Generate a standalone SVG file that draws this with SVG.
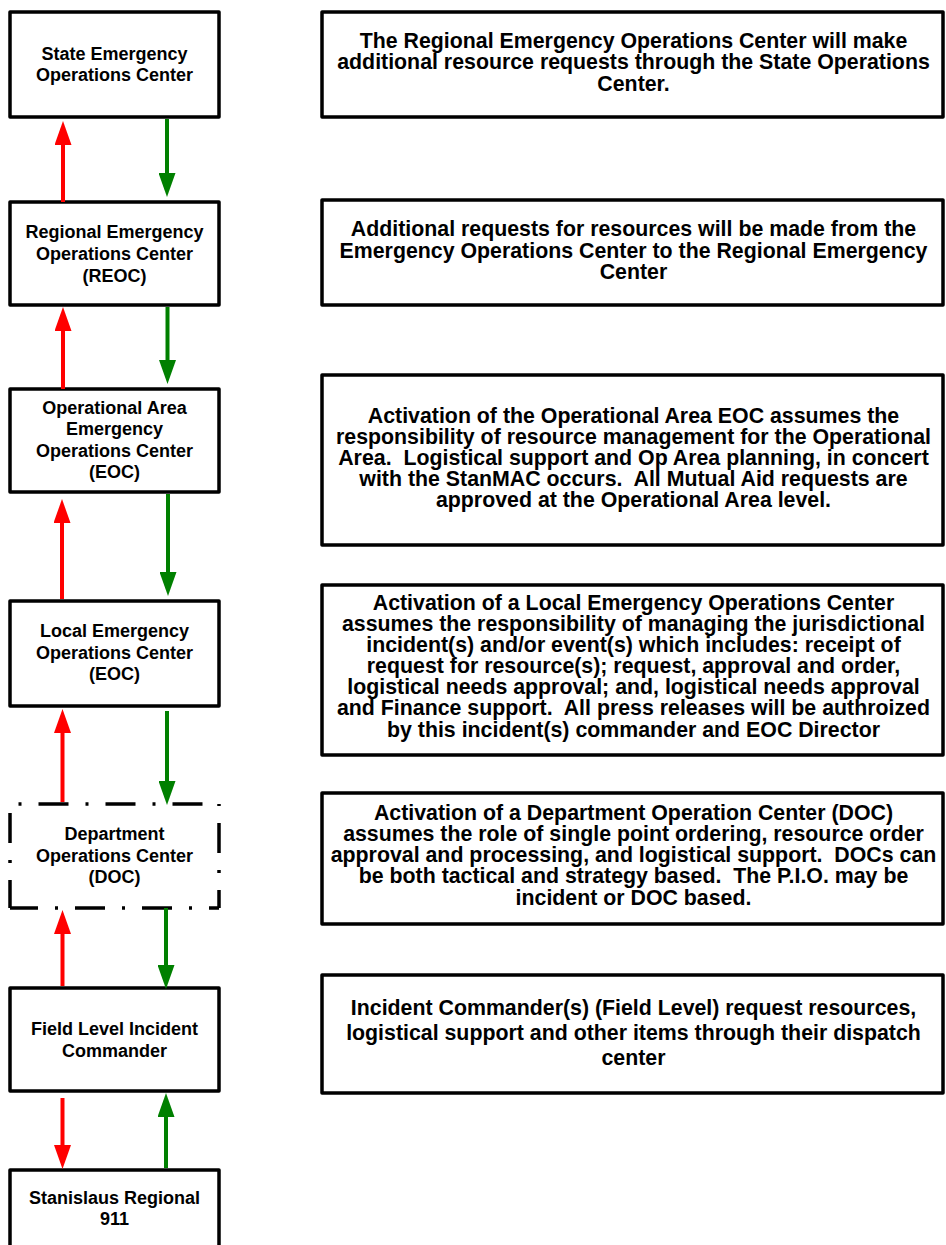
<svg xmlns="http://www.w3.org/2000/svg" width="946" height="1245" viewBox="0 0 946 1245">
<style>
  .box { fill: #ffffff; stroke: #000000; stroke-width: 3.5; stroke-linejoin: round; }
  .dd { stroke: #000000; stroke-width: 3.5; fill: none; stroke-dasharray: 30 17 3 17; }
  .lt { font-family: "Liberation Sans", Arial, sans-serif; font-weight: bold; font-size: 18px; text-anchor: middle; fill: #000000; }
  .rt { font-family: "Liberation Sans", Arial, sans-serif; font-weight: bold; font-size: 21.33px; text-anchor: middle; fill: #000000; white-space: pre; }
  .red { stroke: #ff0000; stroke-width: 4; fill: none; }
  .green { stroke: #008000; stroke-width: 4; fill: none; }
</style>
<defs>
  <marker id="headRed" markerUnits="userSpaceOnUse" markerWidth="24" markerHeight="17" refX="0" refY="8.5" orient="auto" viewBox="0 0 24 17">
    <path d="M0,0 L24,8.5 L0,17 Z" fill="#ff0000"/>
  </marker>
  <marker id="headGreen" markerUnits="userSpaceOnUse" markerWidth="24" markerHeight="17" refX="0" refY="8.5" orient="auto" viewBox="0 0 24 17">
    <path d="M0,0 L24,8.5 L0,17 Z" fill="#008000"/>
  </marker>
</defs>
<rect width="946" height="1245" fill="#ffffff"/>

<!-- Left column nodes -->
<g id="state-eoc">
  <rect class="box" x="10" y="12" width="209" height="105"/>
  <text class="lt" x="114.5" y="60">State Emergency</text>
  <text class="lt" x="114.5" y="81">Operations Center</text>
</g>
<g id="reoc">
  <rect class="box" x="10" y="202" width="209" height="103"/>
  <text class="lt" x="114.5" y="238">Regional Emergency</text>
  <text class="lt" x="114.5" y="260">Operations Center</text>
  <text class="lt" x="114.5" y="282">(REOC)</text>
</g>
<g id="op-area-eoc">
  <rect class="box" x="10" y="389" width="209" height="103"/>
  <text class="lt" x="114.5" y="414">Operational Area</text>
  <text class="lt" x="114.5" y="435">Emergency</text>
  <text class="lt" x="114.5" y="457">Operations Center</text>
  <text class="lt" x="114.5" y="478">(EOC)</text>
</g>
<g id="local-eoc">
  <rect class="box" x="10" y="601" width="209" height="105"/>
  <text class="lt" x="114.5" y="637">Local Emergency</text>
  <text class="lt" x="114.5" y="659">Operations Center</text>
  <text class="lt" x="114.5" y="680">(EOC)</text>
</g>
<g id="doc">
  <line class="dd" x1="10" y1="804" x2="219" y2="804" stroke-dashoffset="38.5"/>
  <line class="dd" x1="219" y1="804" x2="219" y2="908" stroke-dashoffset="48"/>
  <line class="dd" x1="219" y1="908" x2="10" y2="908" stroke-dashoffset="20"/>
  <line class="dd" x1="10" y1="908" x2="10" y2="804" stroke-dashoffset="2"/>
  <text class="lt" x="114.5" y="840">Department</text>
  <text class="lt" x="114.5" y="862">Operations Center</text>
  <text class="lt" x="114.5" y="883">(DOC)</text>
</g>
<g id="field-ic">
  <rect class="box" x="10" y="988" width="209" height="103"/>
  <text class="lt" x="114.5" y="1035">Field Level Incident</text>
  <text class="lt" x="114.5" y="1057">Commander</text>
</g>
<g id="stanislaus-911">
  <rect class="box" x="10" y="1170" width="209" height="100"/>
  <text class="lt" x="114.5" y="1204">Stanislaus Regional</text>
  <text class="lt" x="114.5" y="1225">911</text>
</g>

<!-- Right column description nodes -->
<g id="desc-state">
  <rect class="box" x="322" y="12" width="621" height="105"/>
  <text class="rt" x="633.5" y="48">The Regional Emergency Operations Center will make</text>
  <text class="rt" x="633.5" y="69">additional resource requests through the State Operations</text>
  <text class="rt" x="633.5" y="91">Center.</text>
</g>
<g id="desc-reoc">
  <rect class="box" x="322" y="200" width="621" height="105"/>
  <text class="rt" x="633.5" y="236">Additional requests for resources will be made from the</text>
  <text class="rt" x="633.5" y="258">Emergency Operations Center to the Regional Emergency</text>
  <text class="rt" x="633.5" y="279">Center</text>
</g>
<g id="desc-op-area">
  <rect class="box" x="322" y="375" width="621" height="170"/>
  <text class="rt" x="633.5" y="423">Activation of the Operational Area EOC assumes the</text>
  <text class="rt" x="633.5" y="444">responsibility of resource management for the Operational</text>
  <text class="rt" x="633.5" y="465">Area.  Logistical support and Op Area planning, in concert</text>
  <text class="rt" x="633.5" y="486">with the StanMAC occurs.  All Mutual Aid requests are</text>
  <text class="rt" x="633.5" y="507">approved at the Operational Area level.</text>
</g>
<g id="desc-local">
  <rect class="box" x="322" y="585" width="621" height="170"/>
  <text class="rt" x="633.5" y="610">Activation of a Local Emergency Operations Center</text>
  <text class="rt" x="633.5" y="631">assumes the responsibility of managing the jurisdictional</text>
  <text class="rt" x="633.5" y="652">incident(s) and/or event(s) which includes: receipt of</text>
  <text class="rt" x="633.5" y="673">request for resource(s); request, approval and order,</text>
  <text class="rt" x="633.5" y="694">logistical needs approval; and, logistical needs approval</text>
  <text class="rt" x="633.5" y="715">and Finance support.  All press releases will be authroized</text>
  <text class="rt" x="633.5" y="737">by this incident(s) commander and EOC Director</text>
</g>
<g id="desc-doc">
  <rect class="box" x="322" y="793" width="621" height="131"/>
  <text class="rt" x="633.5" y="820">Activation of a Department Operation Center (DOC)</text>
  <text class="rt" x="633.5" y="841">assumes the role of single point ordering, resource order</text>
  <text class="rt" x="633.5" y="862">approval and processing, and logistical support.  DOCs can</text>
  <text class="rt" x="633.5" y="883">be both tactical and strategy based.  The P.I.O. may be</text>
  <text class="rt" x="633.5" y="905">incident or DOC based.</text>
</g>
<g id="desc-field">
  <rect class="box" x="322" y="975" width="621" height="118"/>
  <text class="rt" x="633.5" y="1015">Incident Commander(s) (Field Level) request resources,</text>
  <text class="rt" x="633.5" y="1040">logistical support and other items through their dispatch</text>
  <text class="rt" x="633.5" y="1065">center</text>
</g>

<!-- Connectors -->
<g id="connectors">
  <line class="red" x1="63" y1="202" x2="63" y2="145" marker-end="url(#headRed)"/>
  <line class="green" x1="167" y1="119" x2="167" y2="173" marker-end="url(#headGreen)"/>
  <line class="red" x1="63" y1="389" x2="63" y2="331" marker-end="url(#headRed)"/>
  <line class="green" x1="167.5" y1="307" x2="167.5" y2="360" marker-end="url(#headGreen)"/>
  <line class="red" x1="62" y1="599" x2="62" y2="523" marker-end="url(#headRed)"/>
  <line class="green" x1="168" y1="494" x2="168" y2="572" marker-end="url(#headGreen)"/>
  <line class="red" x1="62.5" y1="802" x2="62.5" y2="733" marker-end="url(#headRed)"/>
  <line class="green" x1="167" y1="711" x2="167" y2="781" marker-end="url(#headGreen)"/>
  <line class="red" x1="62.5" y1="986" x2="62.5" y2="934" marker-end="url(#headRed)"/>
  <line class="green" x1="166" y1="908" x2="166" y2="965" marker-end="url(#headGreen)"/>
  <line class="red" x1="62.5" y1="1098" x2="62.5" y2="1145" marker-end="url(#headRed)"/>
  <line class="green" x1="166" y1="1168" x2="166" y2="1117" marker-end="url(#headGreen)"/>
</g>
</svg>
